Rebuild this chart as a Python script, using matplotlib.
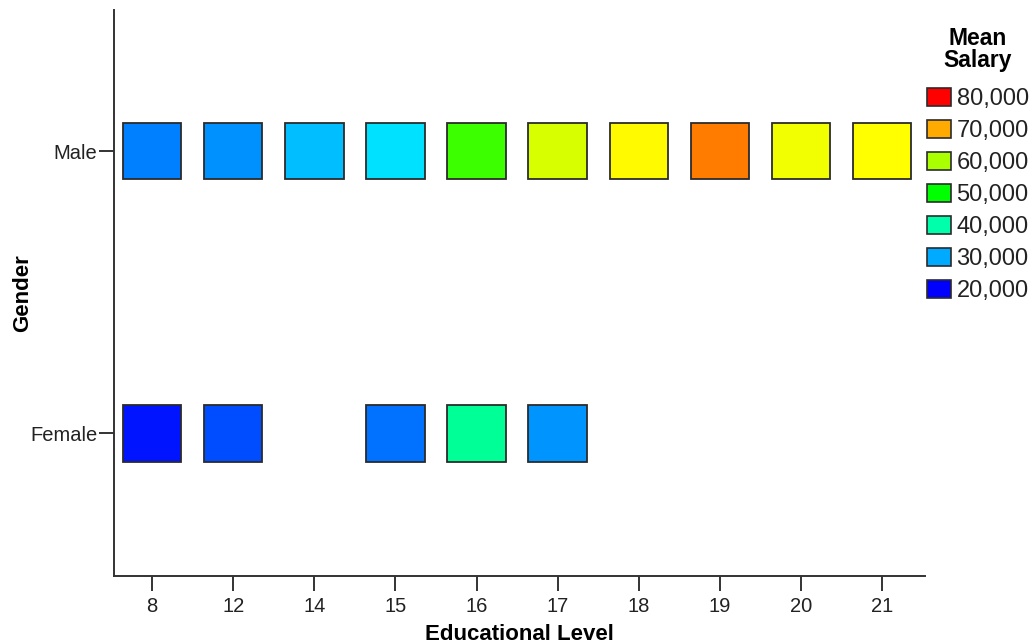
#!/usr/bin/python3
#
# Mean salary by educational level and gender (heat squares)

import colorsys
import matplotlib
matplotlib.use('Agg')
import matplotlib.pyplot as plt
from matplotlib.patches import Patch

# data
educ_levels = ['8', '12', '14', '15', '16', '17', '18', '19', '20', '21']
genders = ['Female', 'Male']
male_salary = [27500, 28500, 31200, 33200, 53500, 62700, 65300, 72700, 64200, 65000]
female_salary = [21200, 24500, None, 26700, 41200, 28700, None, None, None, None]
legend_values = [80000, 70000, 60000, 50000, 40000, 30000, 20000]

plt.rcParams['font.family'] = ['Liberation Sans', 'DejaVu Sans']


def salary_color(v):
    # hue goes from blue (20,000) to red (80,000)
    hue = (240 - 4.0 * (v - 20000) / 1000.0) / 360.0
    hue = min(max(hue, 0.0), 240 / 360.0)
    return colorsys.hsv_to_rgb(hue, 1.0, 1.0)


W, H = 1036, 644
fig = plt.figure(figsize=(W / 100, H / 100), dpi=100)
ax = fig.add_axes([114 / W, 1 - 576 / H, (925 - 114) / W, (576 - 10) / H])

# draw squares
for gi, series in enumerate([female_salary, male_salary]):
    for xi, v in enumerate(series):
        if v is None:
            continue
        ax.bar(xi, 0.2, bottom=gi - 0.1, width=0.72, color=salary_color(v),
               edgecolor='#2b2b2b', linewidth=1.3)

ax.set_xlim(-0.47, 9.53)
ax.set_ylim(-0.505, 1.5)
ax.set_xticks(range(len(educ_levels)))
ax.set_xticklabels(educ_levels)
ax.set_yticks(range(len(genders)))
ax.set_yticklabels(genders)

for s in ['top', 'right']:
    ax.spines[s].set_visible(False)
for s in ['left', 'bottom']:
    ax.spines[s].set_color('#333333')
    ax.spines[s].set_linewidth(1.4)
ax.tick_params(length=11, width=1.4, color='#333333', labelsize=14.5,
               labelcolor='#222222')
ax.tick_params(axis='x', pad=4)
ax.tick_params(axis='y', pad=1)

ax.set_xlabel('Educational Level', fontsize=16, fontweight='bold', labelpad=6)
ax.set_ylabel('Gender', fontsize=16, fontweight='bold')
ax.yaxis.set_label_coords(-0.1, 0.5)

# legend title, drawn separately so it can sit centered above the entries
fig.text(978 / W, 1 - 27 / H, 'Mean\nSalary', ha='center', va='top',
         multialignment='center', fontsize=16.5, fontweight='bold',
         linespacing=0.95)

# legend entries
handles = [Patch(facecolor=salary_color(v), edgecolor='#2b2b2b', linewidth=1.2)
           for v in legend_values]
labels = [f'{v:,}' for v in legend_values]
leg = fig.legend(handles, labels, loc='upper left',
                 bbox_to_anchor=(927 / W, 1 - 88 / H),
                 frameon=False, fontsize=17,
                 handlelength=1.0, handleheight=0.8, handletextpad=0.25,
                 labelspacing=0.41, borderaxespad=0, borderpad=0)
for t in leg.get_texts():
    t.set_color('#222222')

fig.savefig('out.png', dpi=100)
